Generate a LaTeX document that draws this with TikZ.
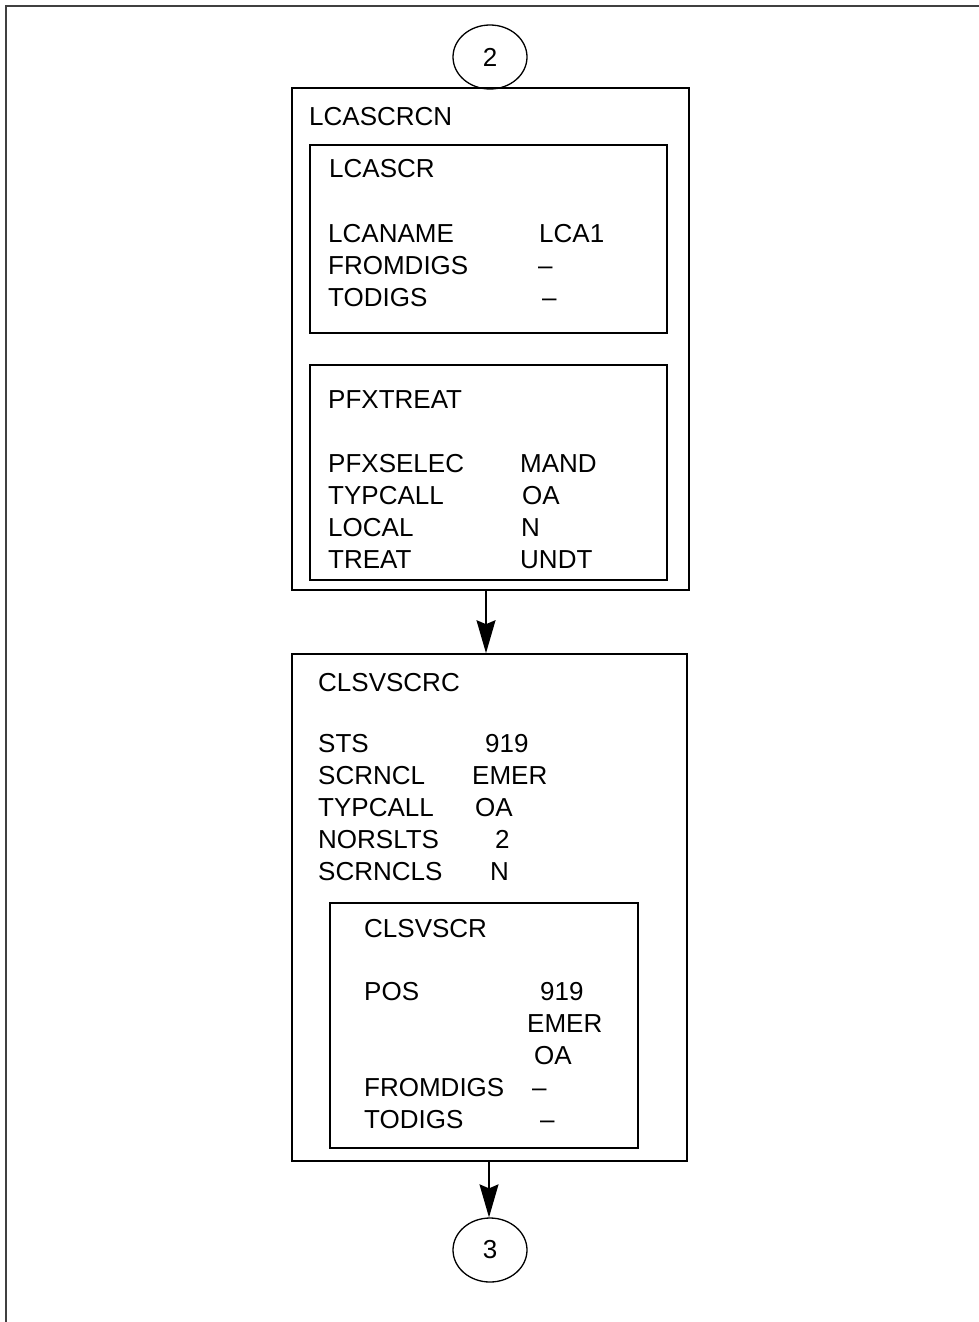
\documentclass[tikz,border=0pt]{standalone}
\usepackage{fontspec}
\setmainfont{Liberation Sans}
\usetikzlibrary{arrows.meta,shapes.geometric}
\begin{document}
\begin{tikzpicture}[x=1pt,y=-1pt,
  every node/.style={font=\fontsize{26}{32}\selectfont},
  lbl/.style={anchor=base west,inner sep=0pt},
  box/.style={draw,line width=1.6pt,inner sep=0pt,rectangle},
  conn/.style={draw,ellipse,line width=1.3pt,inner sep=0pt,minimum width=74pt,minimum height=64pt},
  arr/.style={line width=1.5pt,-{Stealth[length=33pt,width=19pt,inset=4pt]}},
  frame/.style={line width=1.4pt,black!75}]
\useasboundingbox (0,0) rectangle (979,1322);
\draw[frame] (6,1322) -- (6,6) -- (979,6);
% connector 2
\node[conn] (c2) at (490,57) {2};
% outer box LCASCRCN
\node[box,minimum width=397pt,minimum height=502pt] (outer) at (490.5,339) {};
\node[lbl] (t1) at (309,125) {LCASCRCN};
% LCASCR
\node[box,minimum width=357pt,minimum height=188pt] (lcascr) at (488.5,239) {};
\node[lbl] (t2) at (329,177) {LCASCR};
\node[lbl] (a1) at (328,242) {LCANAME};
\node[lbl] (a2) at (328,274) {FROMDIGS};
\node[lbl] (a3) at (328,306) {TODIGS};
\node[lbl] (v1) at (539,242) {LCA1};
\node[lbl] (v2) at (538,274) {–};
\node[lbl] (v3) at (542,306) {–};
% PFXTREAT
\node[box,minimum width=357pt,minimum height=215pt] (pfx) at (488.5,472.5) {};
\node[lbl] (t3) at (328,408) {PFXTREAT};
\node[lbl] (b1) at (328,472) {PFXSELEC};
\node[lbl] (b2) at (328,504) {TYPCALL};
\node[lbl] (b3) at (328,536) {LOCAL};
\node[lbl] (b4) at (328,568) {TREAT};
\node[lbl] (w1) at (520,472) {MAND};
\node[lbl] (w2) at (522,504) {OA};
\node[lbl] (w3) at (521,536) {N};
\node[lbl] (w4) at (520,568) {UNDT};
% CLSVSCRC
\node[box,minimum width=395pt,minimum height=507pt] (clsc) at (489.5,907.5) {};
\node[lbl] (t4) at (318,691) {CLSVSCRC};
\node[lbl] (d1) at (318,752) {STS};
\node[lbl] (d2) at (318,784) {SCRNCL};
\node[lbl] (d3) at (318,816) {TYPCALL};
\node[lbl] (d4) at (318,848) {NORSLTS};
\node[lbl] (d5) at (318,880) {SCRNCLS};
\node[lbl] (e1) at (485,752) {919};
\node[lbl] (e2) at (472,784) {EMER};
\node[lbl] (e3) at (475,816) {OA};
\node[lbl] (e4) at (495,848) {2};
\node[lbl] (e5) at (490,880) {N};
% CLSVSCR
\node[box,minimum width=308pt,minimum height=245pt] (cls) at (484,1025.5) {};
\node[lbl] (t5) at (364,937) {CLSVSCR};
\node[lbl] (f1) at (364,1000) {POS};
\node[lbl] (f4) at (364,1096) {FROMDIGS};
\node[lbl] (f5) at (364,1128) {TODIGS};
\node[lbl] (g1) at (540,1000) {919};
\node[lbl] (g2) at (527,1032) {EMER};
\node[lbl] (g3) at (534,1064) {OA};
\node[lbl] (g4) at (532,1096) {–};
\node[lbl] (g5) at (540,1128) {–};
% connector 3
\node[conn] (c3) at (490,1250) {3};
% arrows
\draw[arr] ([xshift=-4.5pt]outer.south) -- ([xshift=-3.5pt]clsc.north);
\draw[arr] ([xshift=-0.5pt]clsc.south) -- ([xshift=-1pt]c3.north);
\end{tikzpicture}
\end{document}
